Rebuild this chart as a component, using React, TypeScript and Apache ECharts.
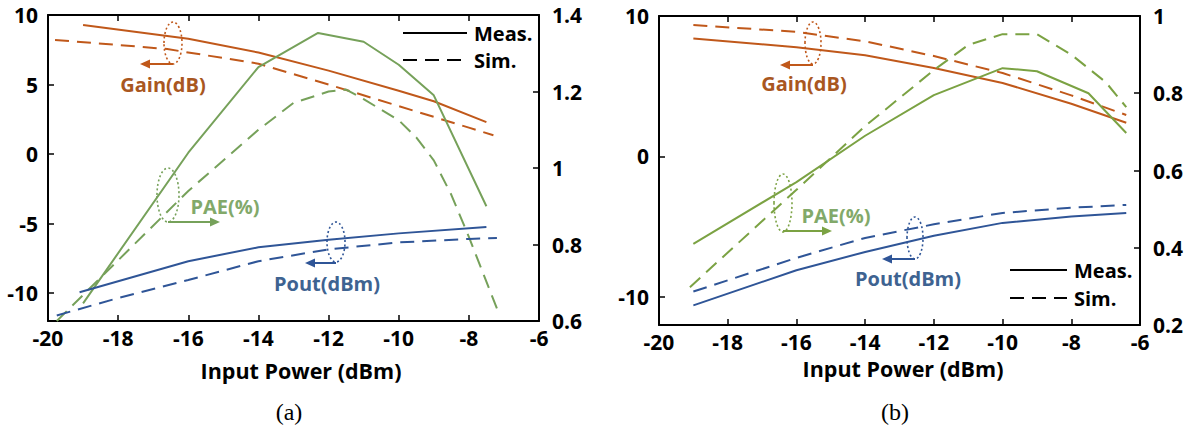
import React, { useEffect, useRef } from "react";
import * as echarts from "echarts";

// ---------- data (x = input power dBm, y = value) ----------
const xTicks = { min: -20, max: -6, step: 2 };
const leftTicksA = [-10, -5, 0, 5, 10];
const leftTicksB = [-10, 0, 10];

// (a)
const gainMeasA = [[-19, 9.28], [-16, 8.3], [-14, 7.3], [-12, 6.0], [-10, 4.55], [-9, 3.8], [-7.5, 2.3]];
const gainSimA = [[-19.8, 8.2], [-18, 7.85], [-16.6, 7.55], [-14, 6.5], [-13.4, 6.05], [-12, 5.0], [-10, 3.45], [-8, 1.9], [-7.3, 1.35]];
const paeMeasA = [[-19, 0.646], [-16, 1.04], [-14, 1.264], [-12.3, 1.353], [-11, 1.33], [-10, 1.27], [-9, 1.19], [-7.5, 0.9]];
const paeSimA = [[-19.75, 0.6], [-16, 0.94], [-14, 1.1], [-13, 1.17], [-12, 1.2], [-11.5, 1.205], [-11, 1.18], [-10, 1.125], [-9.5, 1.08], [-9, 1.02], [-8.5, 0.93], [-8, 0.82], [-7.2, 0.633]];
const poutMeasA = [[-19.1, -9.93], [-16, -7.7], [-14, -6.7], [-12, -6.15], [-10, -5.7], [-7.5, -5.25]];
const poutSimA = [[-19.75, -11.6], [-18, -10.35], [-16, -9.05], [-14, -7.7], [-12, -6.85], [-10, -6.35], [-8, -6.1], [-7.2, -6.04]];

// (b)
const gainMeasB = [[-19, 8.4], [-16, 7.78], [-14, 7.2], [-12, 6.3], [-10, 5.23], [-8, 3.75], [-6.4, 2.4]];
const gainSimB = [[-19, 9.36], [-16, 8.87], [-14, 8.2], [-12, 7.15], [-10, 5.94], [-8, 4.35], [-6.4, 2.95]];
const paeMeasB = [[-19, 0.41], [-16, 0.57], [-14, 0.69], [-12, 0.795], [-10, 0.865], [-9, 0.857], [-7.5, 0.8], [-6.4, 0.697]];
const paeSimB = [[-19.1, 0.298], [-16, 0.55], [-14, 0.715], [-12, 0.86], [-11, 0.925], [-10, 0.953], [-9, 0.953], [-8, 0.9], [-7, 0.829], [-6.4, 0.764]];
const poutMeasB = [[-19, -10.6], [-16, -8.1], [-14, -6.8], [-12, -5.65], [-10, -4.73], [-8, -4.28], [-6.4, -4.02]];
const poutSimB = [[-19, -9.62], [-16, -7.22], [-14, -5.8], [-12, -4.83], [-10, -4.02], [-8, -3.65], [-6.4, -3.45]];

// ---------- styles ----------
const ORANGE = "#C0581A";
const ORANGE_T = "#A9571F";
const GREEN_A = "#76A15A";
const GREEN_B = "#7BA243";
const GREEN_T = "#82A96A";
const BLUE = "#2F5597";
const BLUE_T = "#3E6391";
const FONT = "'Open Sans'";

const axisLine = { show: true, onZero: false, lineStyle: { color: "#000", width: 2 } };
const tick = { show: true, inside: true, length: 6, lineStyle: { color: "#000", width: 1.5 } };
const lbl = { fontFamily: "Open Sans", fontWeight: "bold" as const, fontSize: 21, color: "#000" };

function xAxes(gi: number) {
  return [
    {
      gridIndex: gi, type: "value", position: "bottom", min: xTicks.min, max: xTicks.max, interval: xTicks.step,
      axisLine, axisTick: tick, axisLabel: { ...lbl, margin: 6 }, splitLine: { show: false },
    },
    {
      gridIndex: gi, type: "value", position: "top", min: xTicks.min, max: xTicks.max, interval: xTicks.step,
      axisLine, axisTick: tick, axisLabel: { show: false }, splitLine: { show: false },
    },
  ];
}

function line(data: number[][], color: string, xi: number, yi: number, dashed: boolean) {
  return {
    type: "line", data, xAxisIndex: xi, yAxisIndex: yi, showSymbol: false, symbol: "none",
    lineStyle: { color, width: 2, type: dashed ? [14, 8] : "solid" }, z: 3,
  };
}

function ellipse(cx: number, cy: number, rx: number, ry: number, color: string) {
  return {
    type: "ellipse", shape: { cx, cy, rx, ry },
    style: { fill: "none", stroke: color, lineWidth: 1.6, lineDash: [2, 2.5] }, z: 10,
  };
}

function arrow(x1: number, y: number, x2: number, color: string) {
  const dir = x2 > x1 ? 1 : -1;
  const base = x2 - dir * 10;
  return [
    { type: "line", shape: { x1, y1: y, x2: base, y2: y }, style: { stroke: color, lineWidth: 2 }, z: 10 },
    { type: "polygon", shape: { points: [[x2, y], [base, y - 4.5], [base, y + 4.5]] }, style: { fill: color }, z: 10 },
  ];
}

function text(t: string, x: number, y: number, color: string, size = 20, align = "center", family = FONT, weight = "bold") {
  return {
    type: "text", x, y, z: 11,
    style: { text: t, fill: color, font: `${weight} ${size}px ${family}`, align, verticalAlign: "middle" },
  };
}

function legend(x1: number, x2: number, y1: number, y2: number, tx: number) {
  return [
    { type: "line", shape: { x1, y1, x2, y2: y1 }, style: { stroke: "#000", lineWidth: 2 }, z: 10 },
    { type: "line", shape: { x1, y1: y2, x2, y2 }, style: { stroke: "#000", lineWidth: 2, lineDash: [14, 8] }, z: 10 },
    text("Meas.", tx, y1, "#000", 20, "left"),
    text("Sim.", tx, y2, "#000", 20, "left"),
  ];
}

export default function App() {
  const ref = useRef<HTMLDivElement>(null);
  useEffect(() => {
    document.body.style.margin = "0";
    const chart = echarts.init(ref.current!, null, { renderer: "svg" });
    chart.setOption({
      animation: false,
      backgroundColor: "#fff",
      grid: [
        { left: 48, top: 15, width: 491, height: 306 },
        { left: 659, top: 16, width: 481, height: 309 },
      ],
      xAxis: [...xAxes(0), ...xAxes(1)],
      yAxis: [
        {
          gridIndex: 0, type: "value", position: "left", min: -12, max: 10,
          axisLine, axisTick: { ...tick, customValues: leftTicksA },
          axisLabel: { ...lbl, margin: 10, customValues: leftTicksA }, splitLine: { show: false },
        },
        {
          gridIndex: 0, type: "value", position: "right", min: 0.6, max: 1.4, interval: 0.2,
          axisLine, axisTick: tick, axisLabel: { ...lbl, margin: 13 }, splitLine: { show: false },
        },
        {
          gridIndex: 1, type: "value", position: "left", min: -12, max: 10,
          axisLine, axisTick: { ...tick, customValues: leftTicksB },
          axisLabel: { ...lbl, margin: 10, customValues: leftTicksB }, splitLine: { show: false },
        },
        {
          gridIndex: 1, type: "value", position: "right", min: 0.2, max: 1, interval: 0.2,
          axisLine, axisTick: tick, axisLabel: { ...lbl, margin: 13 }, splitLine: { show: false },
        },
      ],
      series: [
        line(gainMeasA, ORANGE, 0, 0, false),
        line(gainSimA, ORANGE, 0, 0, true),
        line(paeMeasA, GREEN_A, 0, 1, false),
        line(paeSimA, GREEN_A, 0, 1, true),
        line(poutMeasA, BLUE, 0, 0, false),
        line(poutSimA, BLUE, 0, 0, true),
        line(gainMeasB, ORANGE, 2, 2, false),
        line(gainSimB, ORANGE, 2, 2, true),
        line(paeMeasB, GREEN_B, 2, 3, false),
        line(paeSimB, GREEN_B, 2, 3, true),
        line(poutMeasB, BLUE, 2, 2, false),
        line(poutSimB, BLUE, 2, 2, true),
      ],
      graphic: [
        // (a) annotations
        ellipse(173, 43, 9, 21, ORANGE),
        ...arrow(173, 64, 140, ORANGE),
        text("Gain(dB)", 163, 84, ORANGE_T),
        ellipse(168, 195, 11, 27, GREEN_A),
        ...arrow(168, 222, 220, GREEN_A),
        text("PAE(%)", 225, 206, GREEN_T),
        ellipse(336, 242, 9, 20, BLUE),
        ...arrow(336, 263, 305, BLUE),
        text("Pout(dBm)", 327, 283, BLUE_T),
        ...legend(403, 467, 33, 60, 474),
        text("Input Power (dBm)", 301, 370, "#000", 21.5),
        text("(a)", 289, 412, "#000", 24, "center", "'Liberation Serif'", "normal"),
        // (b) annotations
        ellipse(813, 43, 8, 21, ORANGE),
        ...arrow(813, 65, 780, ORANGE),
        text("Gain(dB)", 804, 83, ORANGE_T),
        ellipse(783, 203, 9, 29, GREEN_B),
        ...arrow(783, 231, 832, GREEN_B),
        text("PAE(%)", 836, 215, GREEN_T),
        ellipse(915, 238, 8, 21, BLUE),
        ...arrow(915, 259, 882, BLUE),
        text("Pout(dBm)", 908, 278, BLUE_T),
        ...legend(1010, 1067, 270, 298, 1074),
        text("Input Power (dBm)", 903, 368, "#000", 21.5),
        text("(b)", 895, 412, "#000", 24, "center", "'Liberation Serif'", "normal"),
      ],
    });
    return () => chart.dispose();
  }, []);
  return <div ref={ref} style={{ width: 1196, height: 435, position: "absolute", left: 0, top: 0 }} />;
}
